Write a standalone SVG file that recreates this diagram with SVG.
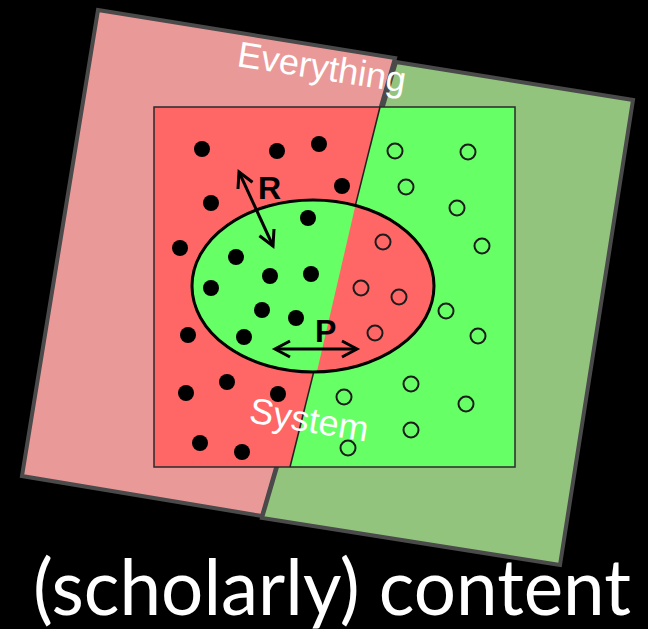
<svg xmlns="http://www.w3.org/2000/svg" width="648" height="629" viewBox="0 0 648 629">
  <style>
    .outer { stroke: #4a4a4a; stroke-width: 4; stroke-linejoin: miter; }
    .dot { fill: #000; }
    .ring { fill: none; stroke: #1c1c1c; stroke-width: 2; }
    .lbl { fill: #fff; font-family: "Liberation Sans", Arial, sans-serif; font-size: 36px; }
    .sym { fill: #000; font-family: "Liberation Sans", Arial, sans-serif; font-size: 32px; font-weight: bold; }
    .arrow { fill: none; stroke: #000; stroke-width: 3; }
    .big { fill: #fff; font-family: Lato, "Open Sans", sans-serif; font-size: 77px; }
  </style>
  <defs>
    <marker id="head" markerUnits="userSpaceOnUse" markerWidth="24" markerHeight="24" refX="0" refY="0" viewBox="-16 -12 20 24" orient="auto-start-reverse" overflow="visible">
      <path d="M-15,-8 L0,0 L-15,8" fill="none" stroke="#000" stroke-width="3" stroke-linejoin="miter"/>
    </marker>
    <clipPath id="ellClip">
      <ellipse cx="313" cy="286" rx="121" ry="86"/>
    </clipPath>
  </defs>
  <rect x="0" y="0" width="648" height="629" fill="#000"/>

  <g id="everything">
    <polygon class="outer" points="98,10 395,58 262,516 22,476" fill="#ea9999"/>
    <polygon class="outer" points="396,62 633,100 560,565 262,518" fill="#93c47d"/>
  </g>

  <g id="system">
    <polygon points="154,107 380,107 290,467 154,467" fill="#ff6666"/>
    <polygon points="380,107 515,107 515,467 290,467" fill="#66ff66"/>
    <rect x="154" y="107" width="361" height="360" fill="none" stroke="#2a2a2a" stroke-width="1.5"/>
    <line x1="380" y1="107" x2="290" y2="467" stroke="#222" stroke-width="1.5"/>
  </g>

  <g id="region">
    <ellipse cx="313" cy="286" rx="121" ry="86" fill="#ff6666"/>
    <polygon clip-path="url(#ellClip)" points="180,190 359,190 315,380 180,380" fill="#66ff66"/>
    <ellipse cx="313" cy="286" rx="121" ry="86" fill="none" stroke="#000" stroke-width="3"/>
  </g>

  <g id="filled-dots">
    <circle class="dot" cx="202" cy="149" r="8"/>
    <circle class="dot" cx="277" cy="151" r="8"/>
    <circle class="dot" cx="319" cy="144" r="8"/>
    <circle class="dot" cx="342" cy="186" r="8"/>
    <circle class="dot" cx="211" cy="203" r="8"/>
    <circle class="dot" cx="308" cy="218" r="8"/>
    <circle class="dot" cx="180" cy="248" r="8"/>
    <circle class="dot" cx="236" cy="257" r="8"/>
    <circle class="dot" cx="270" cy="276" r="8"/>
    <circle class="dot" cx="311" cy="274" r="8"/>
    <circle class="dot" cx="211" cy="288" r="8"/>
    <circle class="dot" cx="262" cy="310" r="8"/>
    <circle class="dot" cx="296" cy="318" r="8"/>
    <circle class="dot" cx="188" cy="335" r="8"/>
    <circle class="dot" cx="244" cy="337" r="8"/>
    <circle class="dot" cx="227" cy="382" r="8"/>
    <circle class="dot" cx="186" cy="393" r="8"/>
    <circle class="dot" cx="278" cy="394" r="8"/>
    <circle class="dot" cx="200" cy="443" r="8"/>
    <circle class="dot" cx="242" cy="452" r="8"/>
  </g>

  <g id="open-dots">
    <circle class="ring" cx="395" cy="151" r="7.5"/>
    <circle class="ring" cx="468" cy="152" r="7.5"/>
    <circle class="ring" cx="406" cy="187" r="7.5"/>
    <circle class="ring" cx="457" cy="208" r="7.5"/>
    <circle class="ring" cx="482" cy="246" r="7.5"/>
    <circle class="ring" cx="383" cy="242" r="7.5"/>
    <circle class="ring" cx="361" cy="288" r="7.5"/>
    <circle class="ring" cx="399" cy="297" r="7.5"/>
    <circle class="ring" cx="446" cy="311" r="7.5"/>
    <circle class="ring" cx="375" cy="333" r="7.5"/>
    <circle class="ring" cx="478" cy="336" r="7.5"/>
    <circle class="ring" cx="411" cy="384" r="7.5"/>
    <circle class="ring" cx="344" cy="397" r="7.5"/>
    <circle class="ring" cx="466" cy="404" r="7.5"/>
    <circle class="ring" cx="411" cy="430" r="7.5"/>
    <circle class="ring" cx="348" cy="448" r="7.5"/>
  </g>

  <g id="connectors">
    <line class="arrow" x1="239" y1="172" x2="273" y2="246" marker-start="url(#head)" marker-end="url(#head)"/>
    <line class="arrow" x1="275" y1="349" x2="357" y2="349" marker-start="url(#head)" marker-end="url(#head)"/>
  </g>

  <g id="labels">
    <text class="sym" x="258" y="199">R</text>
    <text class="sym" x="315" y="342">P</text>
    <text class="lbl" transform="translate(236,66) rotate(9)" font-size="37.5">Everything</text>
    <text class="lbl" transform="translate(248,422) rotate(9.5)">System</text>
    <text class="big" x="33" y="615" textLength="598" lengthAdjust="spacingAndGlyphs">(scholarly) content</text>
  </g>
</svg>
